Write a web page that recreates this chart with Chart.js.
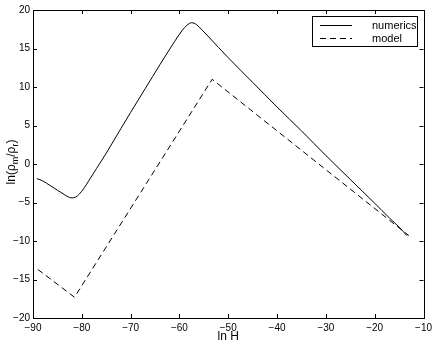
<!DOCTYPE html>
<html>
<head>
<meta charset="utf-8">
<script src="https://cdn.jsdelivr.net/npm/chart.js@4.4.1/dist/chart.umd.min.js"></script>
<style>
  html, body { margin: 0; padding: 0; background: #fff; }
  #wrap { width: 436px; height: 345px; }
</style>
</head>
<body>
<div id="wrap"><canvas id="c" width="436" height="345"></canvas></div>
<script>
'use strict';

// Data
var numericsX = [-89.2, -88, -86.5, -85, -83.5, -82.5, -82, -81.3, -80.5, -79.5, -78.5, -77, -75, -72, -70, -67, -64, -61, -59.5, -58.5, -57.5, -56.5, -55.5, -54, -50, -45, -40, -35, -30, -25, -20, -17, -15, -13.4];
var numericsY = [-1.9, -2.2, -2.8, -3.4, -4.0, -4.35, -4.4, -4.3, -3.9, -3.1, -2.1, -0.6, 1.4, 4.6, 6.7, 9.8, 12.9, 15.9, 17.3, 18.0, 18.35, 18.1, 17.5, 16.5, 13.8, 10.6, 7.4, 4.3, 1.1, -2.0, -5.1, -7.0, -8.2, -9.3];
var modelX = [-89, -81.5, -53.3, -13];
var modelY = [-13.7, -17.3, 11.0, -9.3];
var xTicks = [-90, -80, -70, -60, -50, -40, -30, -20, -10];
var yTicks = [-20, -15, -10, -5, 0, 5, 10, 15, 20];
var seriesNames = ['numerics', 'model'];

function toPoints(xs, ys) {
    return xs.map(function (x, i) { return { x: x, y: ys[i] }; });
}

function fmt(v) {
    return v < 0 ? '\u2212' + Math.abs(v) : String(v);
}

var FONT = '"Liberation Sans", Arial, sans-serif';

// Frame, inward tick marks, axis titles and legend box
var framePlugin = {
    id: 'frame',
    afterDraw: function (chart) {
        var ctx = chart.ctx;
        var a = chart.chartArea;
        var xs = chart.scales.x;
        var ys = chart.scales.y;
        ctx.save();
        ctx.strokeStyle = '#000';
        ctx.lineWidth = 1;
        ctx.strokeRect(Math.round(a.left) + 0.5, Math.round(a.top) + 0.5,
            Math.round(a.right - a.left), Math.round(a.bottom - a.top));
        var tl = 4;
        ctx.beginPath();
        xTicks.forEach(function (v) {
            var px = Math.round(xs.getPixelForValue(v)) + 0.5;
            ctx.moveTo(px, a.bottom); ctx.lineTo(px, a.bottom - tl);
            ctx.moveTo(px, a.top); ctx.lineTo(px, a.top + tl);
        });
        yTicks.forEach(function (v) {
            var py = Math.round(ys.getPixelForValue(v)) + 0.5;
            ctx.moveTo(a.left, py); ctx.lineTo(a.left + tl, py);
            ctx.moveTo(a.right, py); ctx.lineTo(a.right - tl, py);
        });
        ctx.stroke();

        // x title
        ctx.fillStyle = '#000';
        ctx.font = '12px ' + FONT;
        ctx.textAlign = 'center';
        ctx.textBaseline = 'middle';
        ctx.fillText('ln H', (a.left + a.right) / 2, 337);

        // y title with subscripts
        ctx.translate(11, 162);
        ctx.rotate(-Math.PI / 2);
        ctx.textAlign = 'left';
        ctx.textBaseline = 'alphabetic';
        var parts = [['ln(\u03c1', 0, 12], ['m', 3, 9], ['/\u03c1', 0, 12], ['r', 3, 9], [')', 0, 12]];
        var w = 0;
        parts.forEach(function (p) {
            ctx.font = p[2] + 'px ' + FONT;
            w += ctx.measureText(p[0]).width;
        });
        var x = -w / 2;
        parts.forEach(function (p) {
            ctx.font = p[2] + 'px ' + FONT;
            ctx.fillText(p[0], x, 4 + p[1]);
            x += ctx.measureText(p[0]).width;
        });
        ctx.setTransform(1, 0, 0, 1, 0, 0);

        // legend
        var lx = 312, ly = 16, lw = 105, lh = 30;
        ctx.fillStyle = '#fff';
        ctx.fillRect(lx, ly, lw, lh);
        ctx.strokeRect(lx + 0.5, ly + 0.5, lw, lh);
        ctx.font = '11px ' + FONT;
        ctx.textBaseline = 'middle';
        ctx.textAlign = 'left';
        var dashes = [[], [6, 4]];
        seriesNames.forEach(function (name, i) {
            var yy = ly + 9 + i * 13 + 0.5;
            ctx.setLineDash(dashes[i]);
            ctx.beginPath();
            ctx.moveTo(lx + 8, yy);
            ctx.lineTo(lx + 40, yy);
            ctx.stroke();
            ctx.setLineDash([]);
            ctx.fillStyle = '#000';
            ctx.fillText(name, lx + 60, yy);
        });
        ctx.restore();
    }
};

var ctx = document.getElementById('c').getContext('2d');
var chart = new Chart(ctx, {
    type: 'scatter',
    data: {
        datasets: [{
            label: seriesNames[0],
            data: toPoints(numericsX, numericsY),
            showLine: true,
            borderColor: '#000',
            borderWidth: 1,
            pointRadius: 0,
            cubicInterpolationMode: 'monotone'
        }, {
            label: seriesNames[1],
            data: toPoints(modelX, modelY),
            showLine: true,
            borderColor: '#000',
            borderWidth: 1,
            borderDash: [6, 4],
            pointRadius: 0
        }]
    },
    options: {
        responsive: false,
        animation: false,
        layout: { padding: { left: 0, top: 10, right: 6, bottom: 0 } },
        plugins: { legend: { display: false }, tooltip: { enabled: false } },
        scales: {
            x: {
                type: 'linear', min: -90, max: -10,
                afterBuildTicks: function (s) { s.ticks = xTicks.map(function (v) { return { value: v }; }); },
                afterFit: function (s) { s.height = 27; },
                grid: { display: false, drawTicks: false },
                border: { display: false },
                ticks: { color: '#000', padding: 4, maxRotation: 0, font: { size: 10, family: FONT }, callback: fmt }
            },
            y: {
                type: 'linear', min: -20, max: 20,
                afterBuildTicks: function (s) { s.ticks = yTicks.map(function (v) { return { value: v }; }); },
                afterFit: function (s) { s.width = 33; },
                grid: { display: false, drawTicks: false },
                border: { display: false },
                ticks: { color: '#000', padding: 3, font: { size: 10, family: FONT }, callback: fmt }
            }
        }
    },
    plugins: [framePlugin]
});
</script>
</body>
</html>
